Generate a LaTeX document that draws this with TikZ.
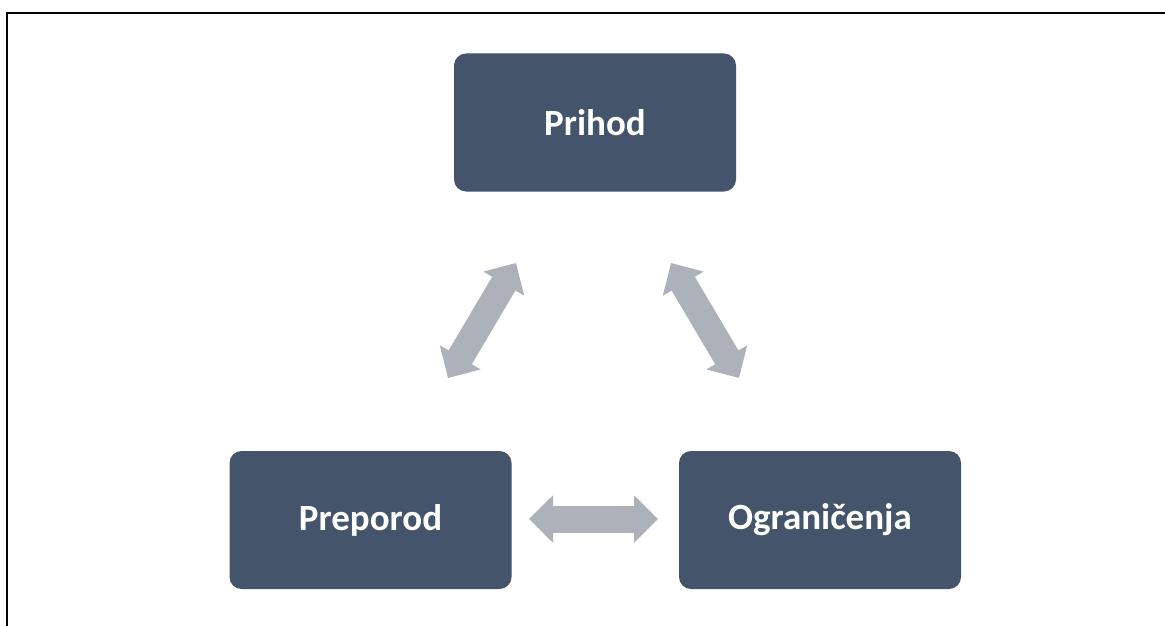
\documentclass[tikz,border=0pt]{standalone}
\usepackage{fontspec}
\setmainfont{Carlito}
\usetikzlibrary{arrows.meta}
\definecolor{boxfill}{HTML}{44546A}
\definecolor{arrowgray}{RGB}{173,177,186}
\tikzset{
  stagebox/.style={draw=none, fill=boxfill, rounded corners=12pt, minimum width=282pt, minimum height=138pt, text=white, font=\fontsize{37pt}{44pt}\selectfont\bfseries, inner sep=0pt},
  dblarrow/.style={draw=arrowgray, line width=27pt, {Triangle[length=24pt,width=46pt]}-{Triangle[length=24pt,width=46pt]}, fill=arrowgray}
}
\begin{document}
\begin{tikzpicture}[x=1pt,y=-1pt]
\useasboundingbox (0,0) rectangle (1165,626);
\fill[white] (0,0) rectangle (1165,626);
\coordinate (ftr) at (1165,13.5);
\coordinate (ftl) at (7,13.5);
\coordinate (fbl) at (7,626);
\draw[line width=2pt, black] (ftr) -- (ftl) -- (fbl);
\node[stagebox] (prihod) at (595,122.5) {Prihod};
\node[stagebox] (preporod) at (370.5,520) {Preporod};
\node[stagebox] (ogr) at (820,520) {Ograničenja};
\coordinate (l1) at (448,378);
\coordinate (l2) at (516,263);
\coordinate (r1) at (671,263);
\coordinate (r2) at (739,378);
\coordinate (h1) at (529,519);
\coordinate (h2) at (658,519);
\draw[dblarrow] (l1) -- (l2);
\draw[dblarrow] (r1) -- (r2);
\draw[dblarrow] (h1) -- (h2);
\end{tikzpicture}
\end{document}
